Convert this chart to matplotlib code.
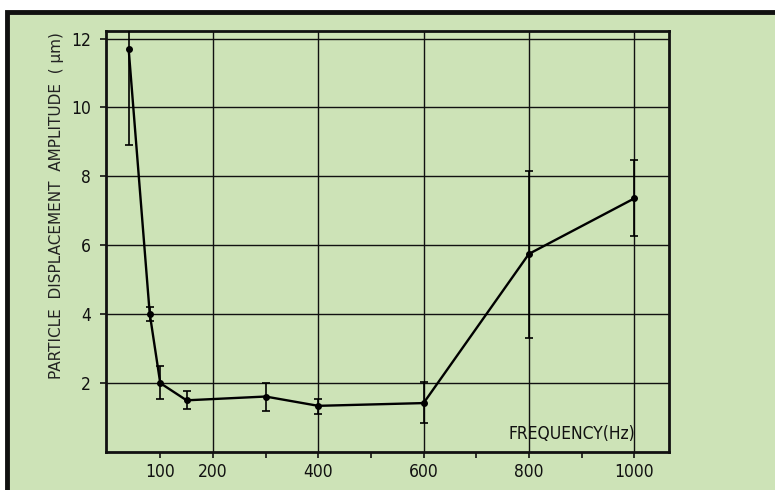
import matplotlib.pyplot as plt
from matplotlib.patches import Rectangle

# frequency (Hz) and amplitude (um)
freq = [40, 80, 100, 150, 300, 400, 600, 800, 1000]
amp = [11.7, 4.02, 2.0, 1.5, 1.61, 1.34, 1.42, 5.75, 7.36]
err_low = [2.8, 0.22, 0.47, 0.24, 0.41, 0.24, 0.58, 2.44, 1.1]
err_high = [0.6, 0.18, 0.49, 0.27, 0.39, 0.19, 0.61, 2.41, 1.11]

xtick_pos = [100, 200, 400, 600, 800, 1000]
xtick_minor = [300, 500, 700, 900]
ytick_pos = [2, 4, 6, 8, 10, 12]
vgrid = [200, 400, 600, 800, 1000]

green = '#cde3b7'
font = dict(family='DejaVu Sans', stretch='condensed')

fig = plt.figure(figsize=(7.75, 4.9), dpi=100, facecolor='white')
# outer framed panel
frame = Rectangle((7 / 775, -0.05), 1.1, 1 - 12 / 490 + 0.05,
                  transform=fig.transFigure, facecolor=green,
                  edgecolor='#111111', linewidth=3.5, zorder=-10)
fig.add_artist(frame)

ax = fig.add_axes([106 / 775, 38 / 490, 563 / 775, 421 / 490])
ax.set_facecolor(green)

for x in vgrid:
    ax.axvline(x, color='#111111', lw=1.0, zorder=1)
for y in ytick_pos:
    ax.axhline(y, color='#111111', lw=1.0, zorder=1)

ax.plot(freq, amp, color='black', lw=1.7, zorder=3)
ax.errorbar(freq, amp, yerr=[err_low, err_high], fmt='o', color='black',
            ms=4, elinewidth=1.2, capsize=3, capthick=1.2, zorder=4)

ax.set_xlim(-3, 1066)
ax.set_ylim(0, 12.22)
ax.set_xticks(xtick_pos)
ax.set_xticks(xtick_minor, minor=True)
ax.set_yticks(ytick_pos)
ax.set_xticklabels([str(v) for v in xtick_pos], fontsize=12.5, **font)
ax.set_yticklabels([str(v) for v in ytick_pos], fontsize=12.5, **font)
ax.tick_params(axis='both', which='both', direction='out', length=4, width=1.2,
               color='#111111', labelcolor='#111111')
ax.tick_params(axis='x', pad=4)
ax.tick_params(axis='y', pad=7)

for s in ax.spines.values():
    s.set_linewidth(2)
    s.set_color('#111111')

# axis title sits inside the plot, lower right
ax.text(0.827, 0.043, 'FREQUENCY(Hz)', transform=ax.transAxes, ha='center',
        va='center', fontsize=12.5, color='#111111', **font)

fig.text(57 / 775, 1 - 206 / 490, 'PARTICLE  DISPLACEMENT  AMPLITUDE  ( µm)',
         rotation=90, ha='center', va='center', fontsize=11, color='#222222')

fig.savefig('out.png', dpi=100, facecolor=fig.get_facecolor())
